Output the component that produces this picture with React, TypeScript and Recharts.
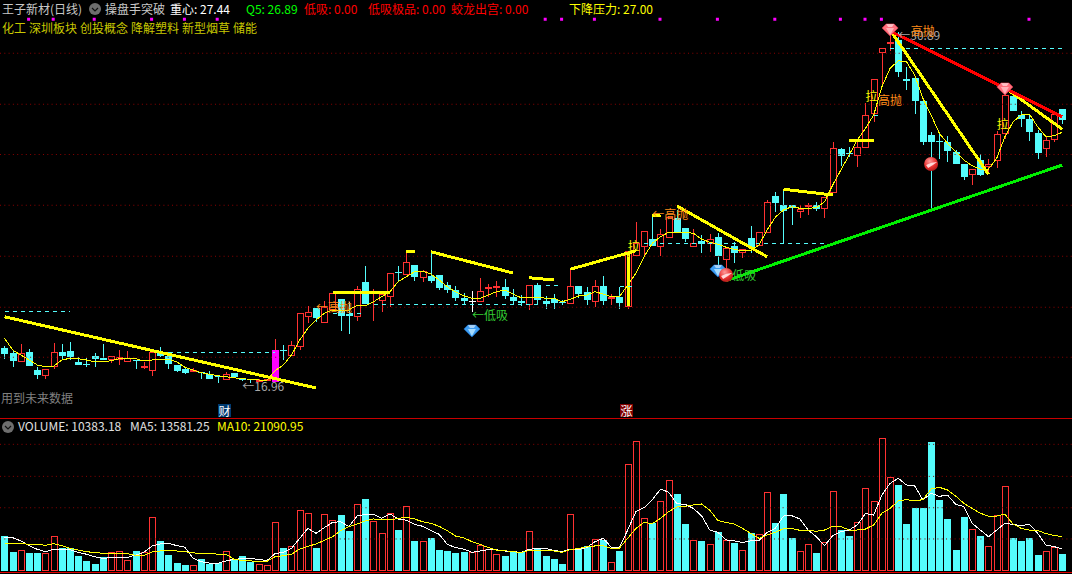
import { ComposedChart, Bar, Line, XAxis, YAxis, ReferenceLine } from 'recharts';

const FONT = '"Noto Sans CJK SC", "Liberation Sans", sans-serif';
const RED = '#ff3232';
const CYAN = '#54fcfc';
const GRID = '#8b0000';

const opens = [
  18.29, 18.08, 17.73, 18.12, 17.40, 17.17, 17.51, 18.12, 18.16, 17.73,
  17.64, 17.96, 17.88, 17.79, 17.80, 17.73, 17.80, 17.49, 17.37, 18.09,
  17.95, 17.59, 17.43, 17.37, 17.33, 17.24, 17.15, 17.01, 17.28, 17.05,
  17.05, 16.99, 16.97, 16.93, 18.19, 17.97, 18.32, 19.53, 19.87, 19.29,
  19.80, 20.23, 19.64, 19.53, 20.92, 20.47, 20.17, 20.33, 21.32, 21.20,
  21.60, 21.09, 21.16, 21.20, 20.80, 20.60, 20.28, 20.15, 20.13, 20.65,
  20.69, 20.72, 20.32, 20.16, 20.00, 20.80, 20.16, 20.24, 20.13, 20.05,
  20.75, 20.51, 20.13, 20.75, 20.23, 20.33, 19.93, 21.96, 22.33, 22.63,
  22.33, 22.67, 23.47, 23.08, 22.33, 22.57, 22.44, 22.72, 21.80, 22.37,
  22.07, 22.67, 22.36, 22.89, 24.36, 24.00, 24.00, 23.73, 23.95, 23.99,
  23.84, 24.49, 26.24, 26.09, 25.97, 26.27, 27.63, 30.07, 30.44, 30.60,
  29.04, 29.07, 28.16, 26.80, 26.56, 26.52, 26.11, 25.64, 25.19, 25.80,
  25.53, 25.77, 26.85, 28.36, 27.60, 27.44, 26.87, 26.25, 26.59, 27.84,
];
const closes = [
  18.05, 17.76, 18.07, 17.56, 17.21, 17.44, 18.11, 17.96, 17.91, 17.61,
  17.59, 17.85, 17.80, 17.95, 17.93, 17.88, 17.76, 17.56, 18.11, 17.96,
  17.64, 17.35, 17.29, 17.40, 17.29, 17.04, 17.11, 17.24, 17.11, 17.00,
  17.00, 17.00, 17.03, 18.20, 18.15, 18.40, 19.67, 19.71, 19.49, 19.91,
  20.47, 19.57, 19.57, 20.63, 20.04, 20.53, 20.44, 21.27, 21.29, 21.71,
  21.12, 21.35, 20.97, 20.67, 20.60, 20.28, 20.16, 20.15, 20.56, 20.71,
  20.75, 20.36, 20.16, 20.09, 20.80, 20.20, 20.04, 20.09, 20.09, 20.75,
  20.45, 20.20, 20.75, 20.17, 20.31, 20.09, 22.16, 22.47, 22.95, 22.36,
  22.83, 23.51, 22.91, 22.63, 22.47, 22.44, 22.63, 21.96, 22.29, 22.09,
  22.23, 22.27, 22.92, 24.11, 24.09, 23.77, 23.87, 23.83, 23.99, 23.84,
  24.31, 26.27, 25.97, 26.05, 26.31, 27.60, 29.03, 30.27, 30.51, 29.33,
  28.97, 28.16, 26.53, 26.53, 26.53, 26.17, 25.64, 25.13, 25.43, 25.20,
  25.64, 26.83, 28.40, 27.76, 27.44, 26.92, 26.09, 26.59, 27.63, 27.41,
];
const highs = [
  18.37, 18.16, 18.44, 18.24, 17.51, 17.44, 18.47, 18.44, 18.52, 17.91,
  17.87, 18.07, 18.44, 17.95, 18.21, 18.16, 17.80, 17.73, 18.20, 18.32,
  18.13, 17.59, 17.51, 17.48, 17.33, 17.37, 17.20, 17.31, 17.28, 17.05,
  17.05, 17.05, 17.05, 18.64, 18.41, 18.56, 19.67, 19.96, 19.87, 20.16,
  20.49, 20.23, 20.12, 20.76, 21.56, 20.63, 20.53, 21.27, 21.56, 22.13,
  21.60, 21.40, 22.13, 21.20, 20.93, 20.76, 20.47, 20.56, 21.07, 20.84,
  20.96, 21.04, 20.63, 20.40, 20.80, 20.87, 20.36, 20.44, 20.20, 21.45,
  20.75, 20.73, 21.00, 21.16, 20.44, 20.73, 22.16, 23.32, 22.95, 23.56,
  23.03, 23.51, 23.80, 23.08, 23.03, 22.80, 22.84, 22.87, 22.29, 22.53,
  22.23, 23.16, 22.92, 24.20, 24.51, 24.64, 24.00, 24.00, 24.07, 24.13,
  24.31, 26.53, 26.27, 26.33, 26.56, 28.07, 29.03, 30.27, 31.00, 30.93,
  29.53, 29.07, 28.16, 26.91, 26.91, 26.76, 26.20, 25.64, 25.43, 26.03,
  25.84, 26.96, 28.73, 28.53, 27.76, 27.63, 27.00, 26.77, 27.71, 27.84,
];
const lows = [
  17.85, 17.53, 17.73, 17.56, 17.05, 17.05, 17.43, 17.80, 17.80, 17.61,
  17.52, 17.53, 17.80, 17.67, 17.60, 17.73, 17.45, 17.43, 17.16, 17.91,
  17.43, 17.32, 17.23, 17.32, 17.05, 17.04, 16.89, 17.01, 17.07, 16.96,
  16.89, 16.95, 16.96, 16.93, 17.80, 17.96, 18.19, 19.29, 19.33, 19.29,
  19.77, 18.97, 18.85, 19.37, 20.04, 19.37, 19.72, 19.91, 20.97, 21.20,
  20.97, 20.93, 20.89, 20.60, 20.49, 20.17, 20.04, 19.73, 20.13, 20.33,
  20.33, 20.24, 19.99, 19.96, 19.80, 20.04, 19.85, 19.83, 20.00, 20.05,
  20.27, 20.00, 19.93, 20.00, 20.00, 19.84, 19.85, 21.96, 22.00, 22.36,
  21.97, 22.67, 22.91, 22.53, 22.33, 22.07, 22.13, 21.60, 21.47, 21.69,
  21.87, 22.07, 22.36, 22.89, 23.73, 22.47, 23.20, 23.47, 23.60, 23.76,
  23.49, 24.49, 25.57, 25.93, 25.53, 26.27, 27.33, 28.73, 30.17, 29.13,
  28.60, 27.65, 26.40, 23.84, 25.84, 25.73, 25.64, 25.00, 24.80, 25.17,
  25.33, 25.49, 26.64, 27.76, 27.12, 26.56, 25.84, 25.93, 26.53, 27.24,
];
const priceMa = [
  18.67, 18.2, 18, 17.8, 17.6, 17.53, 17.56, 17.8, 17.87, 17.85,
  17.8, 17.73, 17.72, 17.77, 17.85, 17.85, 17.85, 17.76, 17.8, 17.83,
  17.83, 17.73, 17.51, 17.4, 17.29, 17.23, 17.17, 17.13, 17.09, 17.05,
  17.03, 17, 17, 17.37, 17.6, 18, 18.6, 19.07, 19.4, 19.67,
  19.8, 19.8, 19.8, 19.99, 19.96, 20.13, 20.33, 20.53, 20.93, 21.13,
  21.33, 21.35, 21.24, 21, 20.73, 20.53, 20.37, 20.27, 20.27, 20.4,
  20.53, 20.6, 20.44, 20.29, 20.31, 20.31, 20.27, 20.27, 20.13, 20.23,
  20.36, 20.4, 20.53, 20.44, 20.33, 20.33, 20.8, 21.27, 21.93, 22.47,
  22.73, 22.91, 22.91, 22.91, 22.87, 22.64, 22.51, 22.43, 22.31, 22.23,
  22.17, 22.17, 22.4, 23, 23.51, 23.8, 23.93, 23.87, 23.87, 23.89,
  24.13, 24.8, 25.4, 26, 26.6, 27.07, 27.6, 28.73, 29.47, 29.77,
  29.73, 29.2, 28.27, 27.6, 26.87, 26.47, 26.13, 25.8, 25.57, 25.44,
  25.44, 25.87, 26.73, 27.33, 27.6, 27.63, 27.13, 26.73, 26.77, 26.91,
];
const volumes = [
  21525, 11685, 12710, 11070, 11070, 11070, 21320, 13940, 13940, 9225,
  6150, 4305, 8405, 11480, 12095, 6560, 12300, 11480, 33005, 18450,
  9840, 4920, 3690, 3485, 7380, 4305, 4920, 12095, 7380, 9225,
  5535, 4100, 3485, 29930, 14145, 15170, 37310, 35465, 14145, 34850,
  31160, 34440, 24600, 41000, 44280, 30750, 23165, 35465, 25215, 39770,
  18450, 18245, 20295, 12915, 12300, 11070, 11685, 11685, 15785, 13530,
  10250, 9225, 11685, 11685, 24395, 13530, 9225, 7380, 4305, 34850,
  13325, 15375, 19475, 19065, 5330, 12300, 65600, 79745, 32390, 29520,
  42845, 55760, 47355, 28905, 18860, 18450, 16400, 23985, 19065, 17220,
  12710, 23370, 22550, 48380, 29520, 47355, 20295, 12095, 16400, 11070,
  17630, 48995, 25215, 21525, 29930, 50840, 42845, 81590, 57605, 52890,
  28905, 38745, 38745, 79130, 43665, 31980, 12915, 33210, 25625, 21525,
  15170, 34235, 52070, 20295, 18450, 20295, 9840, 12095, 14760, 10383,
];
const volMa5 = [
  20900, 20500, 18500, 15600, 13300, 11900, 13300, 13500, 13100, 11500,
  10300, 8800, 7800, 8200, 8600, 8400, 9800, 11500, 15400, 16600,
  17000, 15600, 14600, 7800, 5700, 4900, 4700, 6200, 7200, 7600,
  7600, 7200, 6400, 10700, 11500, 13900, 20100, 26200, 23200, 26700,
  29900, 30300, 27300, 33800, 34900, 34900, 32400, 35100, 32000, 31200,
  28700, 27500, 24800, 22600, 16400, 14400, 13500, 11500, 12300, 13100,
  13100, 12300, 11900, 11500, 13300, 13900, 13900, 12700, 11900, 13500,
  13100, 14400, 18000, 20100, 14600, 14600, 25200, 36500, 39000, 43700,
  50400, 48400, 41400, 41000, 38500, 34000, 25200, 23800, 19100, 18500,
  17600, 18500, 18700, 23800, 26200, 33800, 34000, 32000, 25200, 21100,
  15600, 21700, 24200, 25200, 28300, 35300, 34400, 46700, 53900, 57000,
  52900, 52300, 43700, 47800, 45900, 46700, 41000, 39600, 29300, 25200,
  21100, 25200, 29300, 28700, 27900, 28700, 23200, 16000, 15000, 13581,
];
const volMa10 = [
  17200, 17200, 17000, 16400, 16400, 15800, 16800, 15600, 13900, 12900,
  11900, 11300, 10900, 10900, 10900, 10700, 9600, 9600, 11700, 12300,
  12500, 12300, 11900, 11100, 10900, 10900, 10300, 10300, 7200, 6400,
  6200, 5900, 5900, 8800, 9400, 10300, 13500, 15200, 16600, 18900,
  21100, 24800, 27300, 28900, 30800, 32000, 31400, 31400, 32400, 33000,
  32000, 30300, 29300, 27500, 24800, 21500, 20500, 18000, 16400, 14400,
  12900, 12500, 11900, 11300, 12700, 12900, 12700, 12300, 11500, 13100,
  13900, 14800, 15400, 15600, 13900, 14100, 20100, 26200, 29900, 29100,
  32400, 36500, 39400, 39800, 40600, 41200, 37500, 31000, 29900, 28900,
  26200, 23200, 20100, 22100, 23800, 26000, 26200, 25000, 25000, 24400,
  25200, 27500, 27300, 25200, 25200, 25800, 28300, 35500, 38500, 43100,
  43900, 43100, 43900, 50400, 51500, 49800, 46100, 41600, 38500, 35500,
  33800, 33800, 34900, 28900, 26200, 25200, 25000, 23000, 21900, 21091,
];

// [start bar, start price, end bar, end price]
const trendYellow = [
  [0, 19.53, 38, 16.68],
  [40, 20.49, 47, 20.49],
  [49, 22.16, 50, 22.16],
  [52, 22.13, 62, 21.28],
  [64, 21.09, 67, 21.0],
  [69, 21.43, 77, 22.17],
  [79, 23.56, 80, 23.59],
  [82, 23.96, 93, 21.93],
  [95, 24.63, 101, 24.4],
  [103, 26.57, 106, 26.57],
  [108, 31.0, 120, 25.23],
  [122, 28.69, 129, 27.03],
];
const trendRed = [[108, 30.96, 129, 27.53]];
const trendGreen = [[88, 20.97, 129, 25.6]];
const levelsCyan = [
  [0, 19.75, 8, 19.75],
  [20, 18.11, 33, 18.11],
  [40, 19.67, 44, 19.67],
  [45, 20.04, 65, 20.04],
  [66, 20.8, 68, 20.8],
  [75, 20.73, 77, 20.73],
  [78, 22.47, 100, 22.47],
  [106, 27.6, 107, 27.6],
  [108, 30.27, 129, 30.27],
];

const priceGrid = [30.07, 28.03, 26.02, 23.99, 21.95, 19.91, 17.91];
const volumeGrid = [77900, 58200, 38900, 19700];

const topTickBars = [3, 6, 11, 18, 22, 26, 66, 68, 72, 80, 87, 94, 102, 105, 107, 125];
const magentaBars = [33];
const yellowBars = [76];
const redGems = [[108, 31.0], [122, 28.64]];
const blueGems = [[57, 18.96], [87, 21.36]];
const balls = [[88, 21.2], [113, 25.64]];
const notes = [
  { bar: 29, price: 16.8, text: '←16.96', color: '#a8a8a8', shift: 0 },
  { bar: 38, price: 19.96, text: '←高抛', color: '#ff8c1a', shift: 0 },
  { bar: 57, price: 19.64, text: '←低吸', color: '#33cc33', shift: 0 },
  { bar: 76, price: 22.4, text: '拉', color: '#ffff00', shift: 0 },
  { bar: 79, price: 23.68, text: '←高抛', color: '#ff8c1a', shift: 0 },
  { bar: 89, price: 21.24, text: '低吸', color: '#33cc33', shift: -2 },
  { bar: 105, price: 28.4, text: '拉', color: '#ffff00', shift: 0 },
  { bar: 107, price: 28.24, text: '高抛', color: '#ff8c1a', shift: -4 },
  { bar: 109, price: 30.84, text: '←30.89', color: '#a8a8a8', shift: 0 },
  { bar: 111, price: 31.0, text: '高抛', color: '#ff8c1a', shift: -4 },
  { bar: 121, price: 27.28, text: '拉', color: '#ffff00', shift: 0 },
];

const priceRows: any[] = opens.map((open, i) => ({
  i, open, close: closes[i], high: highs[i], low: lows[i], range: [lows[i], highs[i]], ma: priceMa[i],
  tick: topTickBars.includes(i) ? 31.45 : null,
}));
const addSegments = (prefix: string, segs: number[][]) => segs.forEach(([a, p, b, q], k) => {
  priceRows[a][`${prefix}${k}`] = p;
  priceRows[b][`${prefix}${k}`] = q;
});
addSegments('y', trendYellow);
addSegments('r', trendRed);
addSegments('g', trendGreen);
addSegments('c', levelsCyan);
redGems.forEach(([b, p]) => { priceRows[b].gemRed = p; });
blueGems.forEach(([b, p]) => { priceRows[b].gemBlue = p; });
balls.forEach(([b, p]) => { priceRows[b].ball = p; });
notes.forEach((n) => { priceRows[n.bar].notePrice = n.price; priceRows[n.bar].note = n; });

const volumeRows = volumes.map((vol, i) => ({
  i, vol, ma5: volMa5[i], ma10: volMa10[i], up: closes[i] >= opens[i],
}));

function Candle({ x, y, width, height, payload }: any) {
  const { i, open, close, high, low } = payload;
  const k = Math.abs(height) / (high - low);
  const yOf = (p: number) => Math.round(y + (high - p) * k);
  const left = Math.round(x);
  const top = yOf(Math.max(open, close));
  const bot = yOf(Math.min(open, close));
  const color = close > open ? RED : close < open ? CYAN : '#ffffff';
  const wick = (
    <rect x={left + 3} y={yOf(high)} width={1} height={Math.max(yOf(low) - yOf(high), 1)} fill={color} />
  );
  if (magentaBars.includes(i)) {
    return (
      <g shapeRendering="crispEdges">
        <rect x={left + 3} y={yOf(high)} width={1} height={top - yOf(high)} fill={RED} />
        <rect x={left} y={top} width={width} height={bot - top} fill="#ff00ff" />
      </g>
    );
  }
  if (close > open) {
    return (
      <g shapeRendering="crispEdges">
        {wick}
        <rect x={left + 0.5} y={top + 0.5} width={6} height={Math.max(bot - top - 1, 1)} fill="#000" stroke={RED} />
        {yellowBars.includes(i) && <rect x={left + 2} y={top + 1} width={3} height={bot - top - 2} fill="#ffff00" />}
      </g>
    );
  }
  return (
    <g shapeRendering="crispEdges">
      {wick}
      <rect x={left} y={top} width={width} height={Math.max(bot - top, 1)} fill={color} />
    </g>
  );
}

function VolumeBar({ x, y, width, height, payload }: any) {
  const left = Math.round(x);
  const top = Math.round(y);
  const h = Math.round(height);
  if (payload.up) {
    return <rect x={left + 0.5} y={top + 0.5} width={6} height={h - 1} fill="#000" stroke={RED} shapeRendering="crispEdges" />;
  }
  return <rect x={left} y={top} width={width} height={h} fill={CYAN} shapeRendering="crispEdges" />;
}

const TickDot = ({ cx, cy, value }: any) => (value == null ? <g /> : <rect x={cx - 2} y={cy - 1} width={3} height={3} fill="#ff00ff" />);

const gemDot = (body: string, light: string, edge: string) => ({ cx, cy, value }: any) => {
  if (value == null) return <g />;
  return (
    <g>
      <polygon points={`${cx - 8},${cy - 2} ${cx - 4},${cy - 6} ${cx + 4},${cy - 6} ${cx + 8},${cy - 2} ${cx},${cy + 6}`} fill={body} stroke={edge} strokeWidth={0.7} />
      <polygon points={`${cx - 4},${cy - 2} ${cx + 4},${cy - 2} ${cx},${cy + 5}`} fill={light} />
      <polygon points={`${cx - 4},${cy - 6} ${cx + 4},${cy - 6} ${cx + 2},${cy - 3} ${cx - 2},${cy - 3}`} fill="#ffffff" opacity={0.55} />
    </g>
  );
};
const RedGem = gemDot('#ff6f7d', '#ffb0b8', '#d83a4a');
const BlueGem = gemDot('#3d9df2', '#a5dcff', '#1c6fc4');

const BallDot = ({ cx, cy, value }: any) => {
  if (value == null) return <g />;
  return (
    <g>
      <circle cx={cx} cy={cy} r={7} fill="url(#ballFill)" />
      <path d={`M${cx - 5},${cy + 1} Q${cx},${cy - 2} ${cx + 6},${cy - 2} Q${cx + 2},${cy + 1} ${cx - 3},${cy + 4} Z`} fill="#ffd8d8" />
    </g>
  );
};

const NoteDot = ({ cx, cy, payload }: any) => {
  const n = payload.note;
  if (!n) return <g />;
  return (
    <text x={cx + n.shift} y={cy} dominantBaseline="central" fontFamily={FONT} fontSize={12} fill={n.color}>{n.text}</text>
  );
};

function Txt({ x, y, color, children }: { x: number; y: number; color: string; children: any }) {
  return (
    <div style={{ position: 'absolute', left: x, top: y - 8, lineHeight: '16px', height: 16, fontFamily: FONT, fontSize: 12, color, whiteSpace: 'nowrap' }}>
      {children}
    </div>
  );
}

function FoldIcon({ x, y }: { x: number; y: number }) {
  return (
    <svg style={{ position: 'absolute', left: x - 6, top: y - 6 }} width={12} height={12}>
      <circle cx={6} cy={6} r={6} fill="#6e6e6e" />
      <path d="M3,5 L6,8 L9,5" stroke="#111" strokeWidth={1.2} fill="none" />
    </svg>
  );
}

function Tag({ x, bg, children }: { x: number; bg: string; children: any }) {
  return (
    <div style={{ position: 'absolute', left: x, top: 404, width: 13, height: 13, background: bg, color: '#fff', fontFamily: FONT, fontSize: 12, lineHeight: '13px', textAlign: 'center' }}>
      {children}
    </div>
  );
}

const axisPadding = { left: 0.4, right: 5.6 };
const segLine = (prefix: string, k: number, color: string, width: number, dash?: string) => (
  <Line key={`${prefix}${k}`} dataKey={`${prefix}${k}`} stroke={color} strokeWidth={width} strokeDasharray={dash}
    shapeRendering="crispEdges" dot={false} activeDot={false} connectNulls isAnimationActive={false} />
);

export default function App() {
  return (
    <div style={{ position: 'absolute', left: 0, top: 0, width: 1072, height: 574, background: '#000', overflow: 'hidden' }}>
      <div style={{ position: 'absolute', left: 0, top: 0 }}>
        <ComposedChart width={1072} height={418} data={priceRows} margin={{ top: 0, right: 0, bottom: 0, left: 0 }}>
          <defs>
            <radialGradient id="ballFill" cx="40%" cy="30%" r="75%">
              <stop offset="0%" stopColor="#ff9a9a" />
              <stop offset="60%" stopColor="#e8302f" />
              <stop offset="100%" stopColor="#a81414" />
            </radialGradient>
          </defs>
          <XAxis dataKey="i" hide padding={axisPadding} />
          <YAxis hide type="number" domain={[15.48, 32.2]} allowDataOverflow />
          {priceGrid.map((p) => <ReferenceLine key={p} y={p} stroke={GRID} strokeDasharray="1 3.3" />)}
          {levelsCyan.map((_, k) => segLine('c', k, CYAN, 1, '4 4'))}
          <Bar dataKey="range" barSize={7} shape={Candle} isAnimationActive={false} />
          <Line dataKey="ma" stroke="#ffff00" strokeWidth={1} shapeRendering="crispEdges" dot={false} activeDot={false} isAnimationActive={false} />
          {trendYellow.map((_, k) => segLine('y', k, '#ffff00', 3))}
          {trendRed.map((_, k) => segLine('r', k, '#ff0000', 3))}
          {trendGreen.map((_, k) => segLine('g', k, '#00f000', 3))}
          <Line dataKey="tick" stroke="none" dot={TickDot} activeDot={false} isAnimationActive={false} />
          <Line dataKey="gemRed" stroke="none" dot={RedGem} activeDot={false} isAnimationActive={false} />
          <Line dataKey="gemBlue" stroke="none" dot={BlueGem} activeDot={false} isAnimationActive={false} />
          <Line dataKey="ball" stroke="none" dot={BallDot} activeDot={false} isAnimationActive={false} />
          <Line dataKey="notePrice" stroke="none" dot={NoteDot} activeDot={false} isAnimationActive={false} />
        </ComposedChart>
      </div>

      <div style={{ position: 'absolute', left: 0, top: 418 }}>
        <ComposedChart width={1072} height={153} data={volumeRows} margin={{ top: 0, right: 0, bottom: 0, left: 0 }}>
          <XAxis dataKey="i" hide padding={axisPadding} />
          <YAxis hide type="number" domain={[0, 94095]} allowDataOverflow />
          {volumeGrid.map((v) => <ReferenceLine key={v} y={v} stroke={GRID} strokeDasharray="1 3.3" />)}
          <Bar dataKey="vol" barSize={7} shape={VolumeBar} isAnimationActive={false} />
          <Line dataKey="ma5" stroke="#ffffff" strokeWidth={1} shapeRendering="crispEdges" dot={false} activeDot={false} isAnimationActive={false} />
          <Line dataKey="ma10" stroke="#ffff00" strokeWidth={1} shapeRendering="crispEdges" dot={false} activeDot={false} isAnimationActive={false} />
        </ComposedChart>
      </div>

      <div style={{ position: 'absolute', left: 0, top: 418, width: 1072, height: 1, background: '#c80000' }} />
      <div style={{ position: 'absolute', left: 0, top: 572, width: 1072, height: 1, background: '#e00000' }} />

      <Txt x={2} y={9} color="#c8c8c8">王子新材(日线)</Txt>
      <FoldIcon x={95} y={9} />
      <Txt x={105} y={9} color="#c8c8c8">操盘手突破</Txt>
      <Txt x={170} y={9} color="#ffffff">重心: 27.44</Txt>
      <Txt x={246} y={9} color="#00ff00">Q5: 26.89</Txt>
      <Txt x={304} y={9} color="#ff0000">低吸: 0.00</Txt>
      <Txt x={368} y={9} color="#ff0000">低吸极品: 0.00</Txt>
      <Txt x={451} y={9} color="#ff0000">蛟龙出宫: 0.00</Txt>
      <Txt x={569} y={9} color="#ffff00">下降压力: 27.00</Txt>

      <Txt x={2} y={28} color="#c8c800">化工</Txt>
      <Txt x={29} y={28} color="#c8c800">深圳板块</Txt>
      <Txt x={80} y={28} color="#c8c800">创投概念</Txt>
      <Txt x={131} y={28} color="#c8c800">降解塑料</Txt>
      <Txt x={182} y={28} color="#c8c800">新型烟草</Txt>
      <Txt x={233} y={28} color="#c8c800">储能</Txt>

      <Txt x={1} y={398} color="#808080">用到未来数据</Txt>
      <Tag x={218} bg="#003a70">财</Tag>
      <Tag x={620} bg="#800000">涨</Tag>

      <FoldIcon x={8} y={427} />
      <Txt x={18} y={426} color="#e0e0e0">VOLUME: 10383.18</Txt>
      <Txt x={130} y={426} color="#e0e0e0">MA5: 13581.25</Txt>
      <Txt x={217} y={426} color="#ffff00">MA10: 21090.95</Txt>
    </div>
  );
}
